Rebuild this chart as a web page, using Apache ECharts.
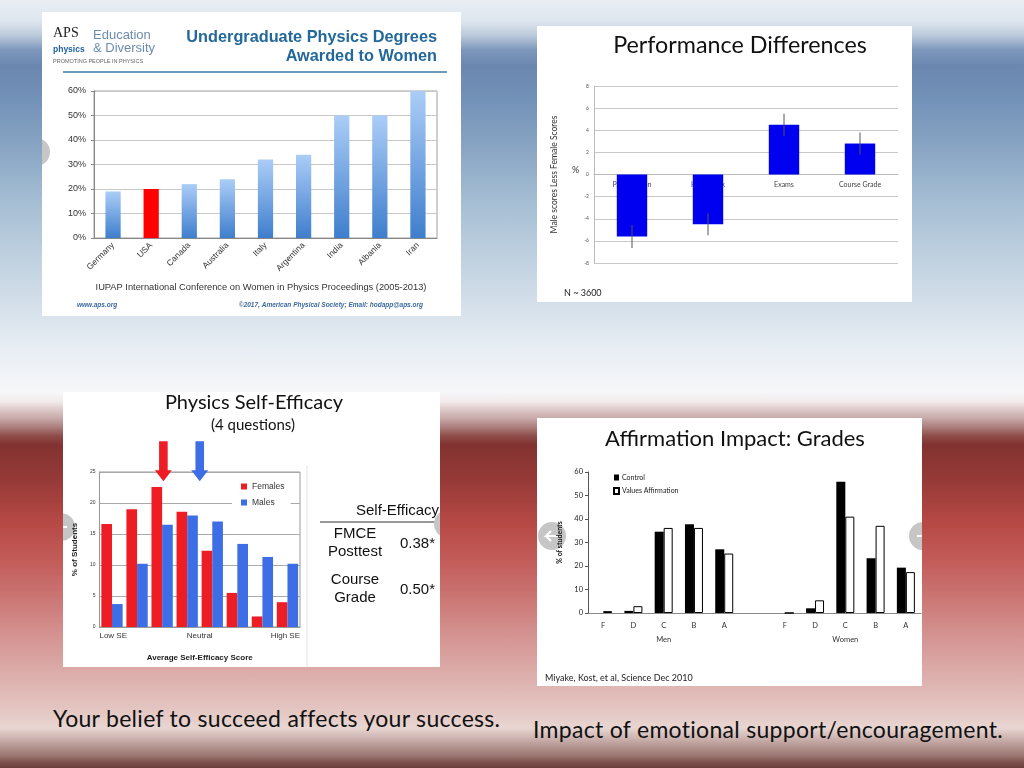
<!DOCTYPE html>
<html>
<head>
<meta charset="utf-8">
<title>Women in physics</title>
<script src="https://cdn.jsdelivr.net/npm/echarts@6/dist/echarts.min.js"></script>
<style>
    body {
        margin: 0; width: 1024px; height: 768px; overflow: hidden; position: relative;
        background: linear-gradient(to bottom,
            #e9eef4 0px, #dde5ee 22px, #b9c8da 36px, #7d97bc 50px, #6b87b0 66px, #7392b8 100px,
            #8aa6c4 150px, #a4bdd3 200px, #bccede 250px, #d2dee9 300px, #e8eef4 350px, #f6f7f9 392px,
            #f2eaea 402px, #e2cfcf 408px, #c9aaaa 418px, #a87a78 428px, #8e4c48 436px, #823230 445px,
            #963a37 480px, #b84a46 525px, #c25c59 560px, #ca7472 595px, #d49391 635px, #dcaeab 675px,
            #e4c6c2 710px, #e8d6d2 728px, #cdb4b0 738px, #b0908c 748px, #9a7470 756px, #7e524d 762px, #6a3e3a 768px);
    }
    .panel { position: absolute; background: #fff; }
    .caption { position: absolute; font-family: Lato, sans-serif; font-size: 23px; line-height: 23px; letter-spacing: 0.3px; color: #111; white-space: nowrap; }
</style>
</head>
<body>

<div id="degrees" class="panel" style="left:42px;top:12px;width:419px;height:304px"></div>
<div id="perf" class="panel" style="left:537px;top:26px;width:375px;height:276px"></div>
<div id="efficacy" class="panel" style="left:63px;top:392px;width:377px;height:275px"></div>
<div id="grades" class="panel" style="left:537px;top:418px;width:385px;height:268px"></div>

<div class="caption" style="left:53px;top:707px">Your belief to succeed affects your success.</div>
<div class="caption" style="left:533px;top:718px">Impact of emotional support/encouragement.</div>

<script>
    // --- undergraduate degrees (%) ---
    var countries = ['Germany', 'USA', 'Canada', 'Australia', 'Italy', 'Argentina', 'India', 'Albania', 'Iran'];
    var womenShare = [19, 20, 22, 24, 32, 34, 50, 50, 60];

    // --- performance differences, male minus female (%) ---
    var perfCats = ['Participation', 'Homework', 'Exams', 'Course Grade'];
    var perfDiff = [-5.6, -4.5, 4.5, 2.8];
    var perfErr = [1.05, 1.0, 1.0, 1.0];

    // --- self-efficacy distribution (% of students) ---
    var seBins = ['1', '2', '3', '4', '5', '6', '7', '8'];
    var femalesPct = [16.6, 19.0, 22.6, 18.6, 12.3, 5.5, 1.7, 4.0];
    var malesPct = [3.7, 10.2, 16.5, 18.0, 17.0, 13.4, 11.3, 10.2];
    var seTickLabels = ['Low SE', 'Neutral', 'High SE'];
    var meanArrows = [2.55, 4.0]; // female mean, male mean (bin scale 0-8)

    // --- affirmation impact (% of students) ---
    var gradeLabels = ['F', 'D', 'C', 'B', 'A', '', 'F', 'D', 'C', 'B', 'A'];
    var groupNames = ['Men', 'Women'];
    var menControl = [0, 0.9, 34.6, 37.8, 27.1];
    var menAffirm = [0.8, 2.9, 36.2, 36.2, 25.3];
    var womenControl = [0, 2.0, 55.9, 23.3, 19.3];
    var womenAffirm = [0, 5.4, 41.0, 37.1, 17.4];

    var red = '#ee1d23', blue = '#3e6ee6';

    function navCircle(cx, cy, left) {
        return [
            {type: 'circle', shape: {cx: cx, cy: cy, r: 14}, style: {fill: '#c6c6c6'}},
            {type: 'polyline', shape: {points: left ?
                [[cx + 6, cy], [cx - 6, cy], [cx - 1, cy - 5], [cx - 6, cy], [cx - 1, cy + 5]] :
                [[cx - 6, cy], [cx + 6, cy], [cx + 1, cy - 5], [cx + 6, cy], [cx + 1, cy + 5]]},
                style: {stroke: '#fff', lineWidth: 2, fill: null}}
        ];
    }

    // ============ chart 1 ============
    var degreeChart = echarts.init(document.getElementById('degrees'));
    degreeChart.setOption({
        backgroundColor: '#fff',
        animation: false,
        textStyle: {fontFamily: 'Liberation Sans'},
        grid: {left: 52, right: 24, top: 79, bottom: 78, show: true, borderColor: '#a0a0a0', borderWidth: 1},
        xAxis: {
            type: 'category', data: countries,
            axisLine: {lineStyle: {color: '#888'}},
            axisTick: {length: 4, lineStyle: {color: '#888'}},
            axisLabel: {rotate: 45, interval: 0, fontSize: 8.5, color: '#333', margin: 6}
        },
        yAxis: {
            type: 'value', min: 0, max: 60, interval: 10,
            axisLine: {show: true, lineStyle: {color: '#888'}},
            axisTick: {show: true, length: 3, lineStyle: {color: '#888'}},
            axisLabel: {formatter: '{value}%', fontSize: 9, color: '#333', margin: 8},
            splitLine: {lineStyle: {color: '#c8c8c8'}}
        },
        series: [{
            type: 'bar', barWidth: '40%',
            itemStyle: {
                color: new echarts.graphic.LinearGradient(0, 0, 0, 1, [
                    {offset: 0, color: '#abcdf7'}, {offset: 1, color: '#3f7ecd'}])
            },
            data: womenShare.map(function (v, i) {
                return countries[i] === 'USA' ? {value: v, itemStyle: {color: '#ff0000'}} : v;
            })
        }],
        graphic: [
            {type: 'text', left: 11, top: 14, style: {text: 'APS', font: '14px "Liberation Serif"', fill: '#222'}},
            {type: 'text', left: 11, top: 33, style: {text: 'physics', font: 'bold 8.5px "Liberation Sans"', fill: '#1e5fa0'}},
            {type: 'text', left: 51, top: 17, style: {text: 'Education', font: '13px "Liberation Sans"', fill: '#6d8cb0'}},
            {type: 'text', left: 51, top: 30, style: {text: '& Diversity', font: '13px "Liberation Sans"', fill: '#6d8cb0'}},
            {type: 'text', left: 11, top: 46, style: {text: 'PROMOTING PEOPLE IN PHYSICS', font: '5.5px "Liberation Sans"', fill: '#666'}},
            {type: 'text', right: 24, top: 18, style: {text: 'Undergraduate Physics Degrees', font: 'bold 16.3px "Liberation Sans"', fill: '#22689a'}},
            {type: 'text', right: 24, top: 37, style: {text: 'Awarded to Women', font: 'bold 16.3px "Liberation Sans"', fill: '#22689a'}},
            {type: 'line', shape: {x1: 21, y1: 60, x2: 405, y2: 60}, style: {stroke: '#3d7aa8', lineWidth: 1.5}},
            {type: 'text', x: 219, y: 275, style: {text: 'IUPAP International Conference on Women in Physics Proceedings (2005-2013)',
                font: '9.3px "Liberation Sans"', fill: '#333', align: 'center', verticalAlign: 'middle'}},
            {type: 'text', x: 35, y: 293, style: {text: 'www.aps.org', font: 'italic bold 6.5px "Liberation Sans"', fill: '#3a6aa0', verticalAlign: 'middle'}},
            {type: 'text', x: 381, y: 293, style: {text: '\u00a92017, American Physical Society; Email: hodapp@aps.org',
                font: 'italic bold 6.5px "Liberation Sans"', fill: '#3a6aa0', align: 'right', verticalAlign: 'middle'}},
            {type: 'circle', shape: {cx: -6, cy: 140, r: 14}, style: {fill: '#c6c6c6'}}
        ]
    });

    // ============ chart 2 ============
    var perfChart = echarts.init(document.getElementById('perf'));
    perfChart.setOption({
        backgroundColor: '#fff',
        animation: false,
        textStyle: {fontFamily: 'Lato'},
        grid: {left: 57, right: 14, top: 60, bottom: 39},
        xAxis: {
            type: 'category', data: perfCats,
            axisLine: {onZero: false, lineStyle: {color: '#bbb'}},
            axisTick: {show: false},
            axisLabel: {fontSize: 7, color: '#444', margin: 7}
        },
        yAxis: {
            type: 'value', min: -8, max: 8, interval: 2,
            axisLine: {show: true, lineStyle: {color: '#bbb'}},
            axisTick: {show: false},
            axisLabel: {fontSize: 5, color: '#555', margin: 5},
            splitLine: {lineStyle: {color: '#c8c8c8'}},
            name: 'Male scores Less Female Scores', nameLocation: 'middle', nameGap: 35, nameRotate: 90,
            nameTextStyle: {fontSize: 8.5, color: '#333'}
        },
        series: [
            {type: 'bar', barWidth: '40%', data: perfDiff, itemStyle: {color: '#0000f0'}, z: 2},
            {
                type: 'custom', z: 3,
                data: perfDiff.map(function (v, i) { return [i, v - perfErr[i], v + perfErr[i]]; }),
                encode: {x: 0, y: [1, 2]},
                renderItem: function (params, api) {
                    var p1 = api.coord([api.value(0), api.value(1)]);
                    var p2 = api.coord([api.value(0), api.value(2)]);
                    return {type: 'line', shape: {x1: p1[0], y1: p1[1], x2: p2[0], y2: p2[1]},
                        style: {stroke: '#555', lineWidth: 1}};
                }
            }
        ],
        graphic: [
            {type: 'text', x: 203, y: 19, style: {text: 'Performance Differences', font: '23.3px Lato', fill: '#111', align: 'center', verticalAlign: 'middle'}},
            {type: 'text', x: 35, y: 144, style: {text: '%', font: '9px Lato', fill: '#333', verticalAlign: 'middle'}},
            {type: 'text', x: 27, y: 267, style: {text: 'N ~ 3600', font: '9px Lato', fill: '#222', verticalAlign: 'middle'}}
        ]
    });
    // move the category axis up onto the zero line
    var zeroPx = perfChart.convertToPixel({yAxisIndex: 0}, 0);
    var floorPx = perfChart.convertToPixel({yAxisIndex: 0}, -8);
    perfChart.setOption({xAxis: {offset: zeroPx - floorPx}});

    // ============ chart 3 ============
    var seChart = echarts.init(document.getElementById('efficacy'));
    var tableFont = '15px "Liberation Sans"';
    seChart.setOption({
        backgroundColor: '#fff',
        animation: false,
        textStyle: {fontFamily: 'Liberation Sans'},
        grid: {left: 32, right: 140, top: 80, bottom: 36, show: true, borderColor: '#999', borderWidth: 1},
        legend: {
            data: ['Females', 'Males'], orient: 'vertical', left: 169, top: 87,
            icon: 'rect', itemWidth: 6, itemHeight: 6, itemGap: 7,
            backgroundColor: '#fff', padding: [3, 6, 3, 9],
            textStyle: {fontSize: 8.5, color: '#333'}
        },
        xAxis: [
            {
                type: 'category', data: seBins,
                axisLine: {lineStyle: {color: '#999'}}, axisTick: {show: false}, axisLabel: {show: false},
                name: 'Average Self-Efficacy Score', nameLocation: 'middle', nameGap: 27,
                nameTextStyle: {fontWeight: 'bold', fontSize: 8, color: '#222'}
            },
            {
                type: 'value', position: 'bottom', min: 0, max: 8, interval: 4,
                axisLine: {show: false}, axisTick: {show: false}, splitLine: {show: false},
                axisLabel: {
                    formatter: function (v) { return seTickLabels[v / 4]; },
                    alignMinLabel: 'left', alignMaxLabel: 'right', fontSize: 8, color: '#333', margin: 5
                }
            }
        ],
        yAxis: {
            type: 'value', min: 0, max: 25, interval: 5,
            axisLine: {show: true, lineStyle: {color: '#999'}}, axisTick: {show: false},
            axisLabel: {fontSize: 5, color: '#333', margin: 4},
            splitLine: {lineStyle: {color: '#aaa'}},
            name: '% of Students', nameLocation: 'middle', nameGap: 16, nameRotate: 90,
            nameTextStyle: {fontWeight: 'bold', fontSize: 8, color: '#222'}
        },
        series: [
            {name: 'Females', type: 'bar', data: femalesPct, barGap: '0%', barCategoryGap: '15%', itemStyle: {color: red}},
            {name: 'Males', type: 'bar', data: malesPct, itemStyle: {color: blue}},
            {
                type: 'custom', xAxisIndex: 1, yAxisIndex: 0, z: 5,
                data: meanArrows.map(function (v, i) { return [v, i]; }),
                renderItem: function (params, api) {
                    var tip = api.coord([api.value(0), 23.5]);
                    var cx = tip[0], ty = tip[1];
                    return {
                        type: 'polygon',
                        shape: {points: [[cx - 4.3, ty - 40], [cx + 4.3, ty - 40], [cx + 4.3, ty - 11], [cx + 8.5, ty - 11],
                            [cx, ty], [cx - 8.5, ty - 11], [cx - 4.3, ty - 11]]},
                        style: {fill: api.value(1) === 0 ? red : blue}
                    };
                }
            }
        ],
        graphic: [
            {type: 'text', x: 191, y: 11, style: {text: 'Physics Self-Efficacy', font: '20px Lato', fill: '#111', align: 'center', verticalAlign: 'middle'}},
            {type: 'text', x: 190, y: 33, style: {text: '(4 questions)', font: '15px Lato', fill: '#111', align: 'center', verticalAlign: 'middle'}},
            {type: 'line', shape: {x1: 244, y1: 73, x2: 244, y2: 275}, style: {stroke: '#e2e2e2', lineWidth: 1}},
            {type: 'text', x: 293, y: 119, style: {text: 'Self-Efficacy', font: tableFont, fill: '#111', verticalAlign: 'middle'}},
            {type: 'line', shape: {x1: 257, y1: 130, x2: 377, y2: 130}, style: {stroke: '#333', lineWidth: 1}},
            {type: 'text', x: 292, y: 142, style: {text: 'FMCE', font: tableFont, fill: '#111', align: 'center', verticalAlign: 'middle'}},
            {type: 'text', x: 292, y: 160, style: {text: 'Posttest', font: tableFont, fill: '#111', align: 'center', verticalAlign: 'middle'}},
            {type: 'text', x: 337, y: 152, style: {text: '0.38*', font: tableFont, fill: '#111', verticalAlign: 'middle'}},
            {type: 'text', x: 292, y: 188, style: {text: 'Course', font: tableFont, fill: '#111', align: 'center', verticalAlign: 'middle'}},
            {type: 'text', x: 292, y: 206, style: {text: 'Grade', font: tableFont, fill: '#111', align: 'center', verticalAlign: 'middle'}},
            {type: 'text', x: 337, y: 198, style: {text: '0.50*', font: tableFont, fill: '#111', verticalAlign: 'middle'}}
        ].concat(navCircle(-2, 135, true), navCircle(385, 132, false))
    });

    // ============ chart 4 ============
    var gradeChart = echarts.init(document.getElementById('grades'));
    gradeChart.setOption({
        backgroundColor: '#fff',
        animation: false,
        textStyle: {fontFamily: 'Lato'},
        grid: {left: 51, right: 1, top: 54, bottom: 73},
        legend: {
            data: ['Control', 'Values Affirmation'], orient: 'vertical', left: 76, top: 56,
            itemWidth: 5, itemHeight: 6, itemGap: 6, padding: 0, icon: 'rect',
            textStyle: {fontSize: 7, color: '#222', padding: [0, 0, 0, -2]}
        },
        xAxis: {
            type: 'category', data: gradeLabels,
            axisLine: {lineStyle: {color: '#888'}}, axisTick: {show: false},
            axisLabel: {
                interval: 0, fontSize: 7.5, color: '#333', margin: 6, lineHeight: 14,
                formatter: function (v, i) {
                    if (i === 2) return v + '\n{grp|' + groupNames[0] + '}';
                    if (i === 8) return v + '\n{grp|' + groupNames[1] + '}';
                    return v;
                },
                rich: {grp: {fontSize: 7.5, color: '#333', lineHeight: 14}}
            }
        },
        yAxis: {
            type: 'value', min: 0, max: 60, interval: 10,
            axisLine: {show: true, lineStyle: {color: '#555'}},
            axisTick: {show: true, length: 3, lineStyle: {color: '#555'}},
            splitLine: {show: false},
            axisLabel: {fontSize: 7.5, color: '#222', margin: 5},
            name: '% of students', nameLocation: 'middle', nameGap: 20, nameRotate: 90,
            nameTextStyle: {fontWeight: 'bold', fontSize: 7, color: '#111'}
        },
        series: [
            {name: 'Control', type: 'bar', barWidth: 9, barGap: '0%', data: menControl.concat(['-'], womenControl), itemStyle: {color: '#000'}},
            {name: 'Values Affirmation', type: 'bar', barWidth: 9, data: menAffirm.concat(['-'], womenAffirm),
                itemStyle: {color: '#fff', borderColor: '#000', borderWidth: 1}}
        ],
        graphic: [
            {type: 'text', x: 198, y: 21, style: {text: 'Affirmation Impact: Grades', font: '22px Lato', fill: '#111', align: 'center', verticalAlign: 'middle'}},
            {type: 'text', x: 8, y: 260, style: {text: 'Miyake, Kost, et al, Science Dec 2010', font: '9px Lato', fill: '#222', verticalAlign: 'middle'}}
        ].concat(navCircle(15, 118, true), navCircle(386, 118, false))
    });
</script>
</body>
</html>
